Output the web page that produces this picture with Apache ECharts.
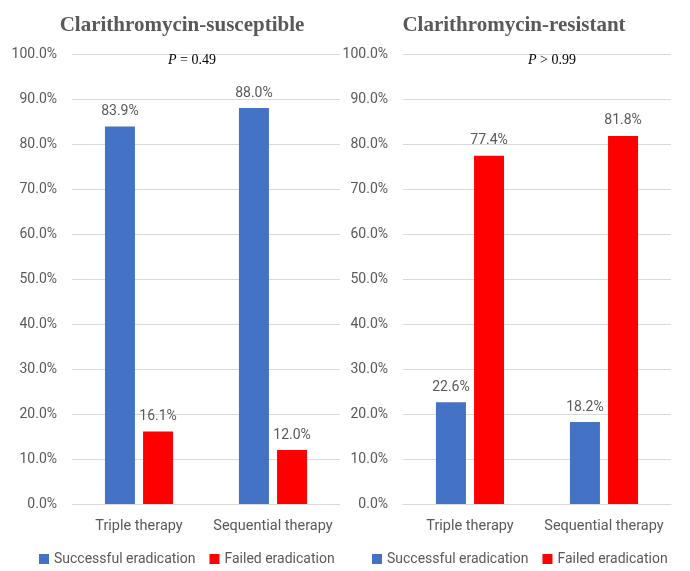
<!DOCTYPE html>
<html><head><meta charset="utf-8">
<script src="https://cdn.jsdelivr.net/npm/echarts@6/dist/echarts.min.js"></script>
<style>html,body{margin:0;padding:0;background:#fff}#c{width:690px;height:571px}</style>
</head><body><div id="c"></div>
<script>
const categories = ['Triple therapy', 'Sequential therapy'];
const seriesNames = ['Successful eradication', 'Failed eradication'];
const susceptibleSuccess = [83.9, 88.0];
const susceptibleFailed = [16.1, 12.0];
const resistantSuccess = [22.6, 18.2];
const resistantFailed = [77.4, 81.8];
const panelTitles = ['Clarithromycin-susceptible', 'Clarithromycin-resistant'];
const pTexts = [['=', '0.49'], ['>', '0.99']];
const yTicks = {min: 0, max: 100, interval: 10};

const gray = '#595959';
const font = 'Roboto';
const colors = ['#4472C4', '#FF0000'];

function yAxis(i) {
  return {
    gridIndex: i, type: 'value', min: yTicks.min, max: yTicks.max, interval: yTicks.interval,
    axisLabel: {formatter: v => v.toFixed(1) + '%', color: gray, fontSize: 14, fontFamily: font, margin: 15},
    splitLine: {lineStyle: {color: '#d9d9d9', width: 1}},
    axisLine: {show: false}, axisTick: {show: false}
  };
}
function xAxis(i) {
  return {
    gridIndex: i, type: 'category', data: categories,
    axisLabel: {color: gray, fontSize: 14.5, fontFamily: font, margin: 15, interval: 0},
    axisLine: {lineStyle: {color: '#d9d9d9'}}, axisTick: {show: false}
  };
}
function bar(name, data, i, color) {
  return {
    name, type: 'bar', data, xAxisIndex: i, yAxisIndex: i,
    barWidth: 30, barGap: '27%',
    itemStyle: {color},
    label: {show: true, position: 'top', distance: 8, color: gray, fontSize: 14, fontFamily: font,
      formatter: p => p.value.toFixed(1) + '%'}
  };
}
const titleStyle = {fontFamily: 'Liberation Serif', fontWeight: 'bold', fontSize: 21, color: gray};
const pRich = {i: {fontFamily: 'Liberation Serif', fontStyle: 'italic', fontWeight: 'normal', fontSize: 14, color: '#000'},
               n: {fontFamily: 'Liberation Serif', fontWeight: 'normal', fontSize: 14, color: '#000'}};

const chart = echarts.init(document.getElementById('c'));
chart.setOption({
  animation: false,
  title: [
    {text: panelTitles[0], left: 177, top: 10, textAlign: 'center', textStyle: titleStyle},
    {text: panelTitles[1], left: 509, top: 10, textAlign: 'center', textStyle: titleStyle},
    {text: '{i|P}{n| ' + pTexts[0][0] + ' ' + pTexts[0][1] + '}', left: 187, top: 48, textAlign: 'center', textStyle: {fontWeight: 'normal', rich: pRich}},
    {text: '{i|P}{n| ' + pTexts[1][0] + ' ' + pTexts[1][1] + '}', left: 547, top: 48, textAlign: 'center', textStyle: {fontWeight: 'normal', rich: pRich}}
  ],
  legend: [
    {data: seriesNames, left: 34, top: 547, itemWidth: 10, itemHeight: 10, itemGap: 14, icon: 'rect',
     textStyle: {color: gray, fontSize: 14, fontFamily: font}},
    {data: seriesNames, left: 367, top: 547, itemWidth: 10, itemHeight: 10, itemGap: 14, icon: 'rect',
     textStyle: {color: gray, fontSize: 14, fontFamily: font}}
  ],
  grid: [
    {left: 72, width: 268, top: 54, height: 450},
    {left: 403, width: 268, top: 54, height: 450}
  ],
  xAxis: [xAxis(0), xAxis(1)],
  yAxis: [yAxis(0), yAxis(1)],
  series: [
    bar(seriesNames[0], susceptibleSuccess, 0, colors[0]),
    bar(seriesNames[1], susceptibleFailed, 0, colors[1]),
    bar(seriesNames[0], resistantSuccess, 1, colors[0]),
    bar(seriesNames[1], resistantFailed, 1, colors[1])
  ]
});
</script></body></html>
